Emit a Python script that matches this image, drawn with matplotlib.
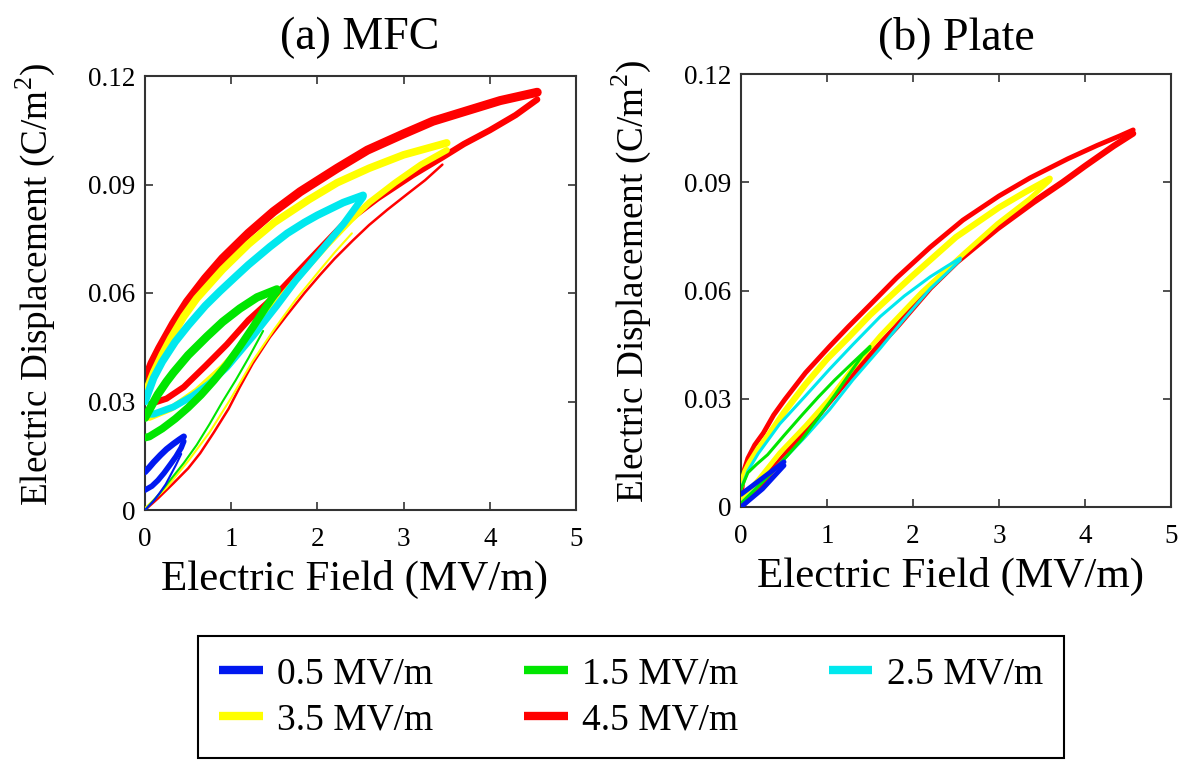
import matplotlib
matplotlib.use("Agg")
import matplotlib.pyplot as plt
from matplotlib.lines import Line2D

plt.rcParams['font.family'] = ['Liberation Serif', 'DejaVu Serif']
plt.rcParams['mathtext.fontset'] = 'custom'
plt.rcParams['mathtext.rm'] = 'Liberation Serif'

# ---------------- data: (E [MV/m], D [C/m^2]) ----------------
levels = ['0.5 MV/m', '1.5 MV/m', '2.5 MV/m', '3.5 MV/m', '4.5 MV/m']
colors = ['#0018F0', '#00E600', '#00E8EE', '#FFFF00', '#FF0000']

# (a) MFC
mfc_red_upper = [(0, 0.0355), (0.08, 0.0405), (0.17, 0.0447), (0.33, 0.0515), (0.49, 0.0575),
                 (0.7, 0.0640), (0.9, 0.0695), (1.2, 0.0765), (1.49, 0.0825), (1.8, 0.0880),
                 (2.23, 0.0945), (2.58, 0.0995), (3.0, 0.1040), (3.34, 0.1075), (3.75, 0.1105),
                 (4.12, 0.1132), (4.55, 0.1155)]
mfc_red_lower = [(4.55, 0.1135), (4.3, 0.1092), (4.0, 0.1050), (3.7, 0.1012), (3.45, 0.0975),
                 (3.1, 0.0925), (2.7, 0.0862), (2.3, 0.0790), (1.9, 0.0690), (1.5, 0.0590),
                 (1.2, 0.0525), (0.95, 0.0458), (0.7, 0.0398), (0.45, 0.0340), (0.25, 0.0308),
                 (0.12, 0.0298)]
mfc_red_initial = [(0, 0), (0.15, 0.0032), (0.33, 0.0074), (0.5, 0.0115), (0.64, 0.0157),
                   (0.8, 0.0215), (0.97, 0.028), (1.1, 0.034), (1.25, 0.0405), (1.45, 0.0478),
                   (1.65, 0.0540), (1.85, 0.0600), (2.03, 0.0650), (2.2, 0.0695), (2.41, 0.0745),
                   (2.6, 0.0788), (2.81, 0.0830), (3.05, 0.0875), (3.25, 0.0912), (3.45, 0.0955)]

mfc_yellow_upper = [(0, 0.032), (0.1, 0.0380), (0.2, 0.0430), (0.3, 0.0475), (0.45, 0.0535),
                    (0.6, 0.0585), (0.75, 0.0625), (0.9, 0.0665), (1.2, 0.0735), (1.5, 0.0795),
                    (1.9, 0.0858), (2.23, 0.0905), (2.6, 0.0945), (3.0, 0.0982), (3.5, 0.1015)]
mfc_yellow_lower = [(3.5, 0.0995), (3.2, 0.0955), (2.9, 0.0905), (2.6, 0.0850), (2.38, 0.0800),
                    (2.1, 0.0730), (1.8, 0.0650), (1.5, 0.0565), (1.2, 0.0475), (0.9, 0.0395),
                    (0.6, 0.0330), (0.3, 0.0280), (0.05, 0.0255)]
mfc_yellow_initial = [(0, 0.0005), (0.25, 0.0062), (0.5, 0.0135), (0.75, 0.0215), (1.0, 0.031),
                      (1.25, 0.0412), (1.5, 0.0500), (1.75, 0.0582), (2.0, 0.0655), (2.2, 0.0712),
                      (2.4, 0.0765)]

mfc_cyan_upper = [(0, 0.030), (0.1, 0.0365), (0.2, 0.0410), (0.35, 0.0465), (0.5, 0.0510),
                  (0.7, 0.0565), (0.87, 0.0605), (1.05, 0.0645), (1.2, 0.0678), (1.45, 0.0728),
                  (1.65, 0.0765), (1.85, 0.0795), (2.0, 0.0815), (2.3, 0.0850), (2.53, 0.0870)]
mfc_cyan_lower = [(2.53, 0.0865), (2.3, 0.0790), (2.0, 0.0705), (1.75, 0.0635), (1.53, 0.0565),
                  (1.25, 0.0480), (0.95, 0.0395), (0.75, 0.0350), (0.55, 0.0315), (0.33, 0.0285),
                  (0.1, 0.0265), (0, 0.0265)]

mfc_green_upper = [(0, 0.0255), (0.08, 0.0290), (0.15, 0.0320), (0.25, 0.0355), (0.33, 0.0380),
                   (0.5, 0.0428), (0.72, 0.0480), (0.9, 0.0520), (1.1, 0.0557), (1.3, 0.0588),
                   (1.53, 0.0610)]
mfc_green_lower = [(1.53, 0.0605), (1.4, 0.0560), (1.25, 0.0505), (1.1, 0.0452), (0.95, 0.0402),
                   (0.8, 0.0358), (0.65, 0.0318), (0.5, 0.0283), (0.35, 0.0252), (0.2, 0.0225),
                   (0.05, 0.0203), (0, 0.0200)]
mfc_green_initial = [(0, 0), (0.15, 0.0040), (0.3, 0.0085), (0.45, 0.0130), (0.6, 0.0180),
                     (0.75, 0.0238), (0.9, 0.0300), (1.05, 0.0358), (1.2, 0.0420), (1.37, 0.0495)]

mfc_blue_upper = [(0, 0.0105), (0.05, 0.0118), (0.1, 0.0132), (0.18, 0.0152), (0.25, 0.0168),
                  (0.33, 0.0183), (0.4, 0.0195), (0.45, 0.0203)]
mfc_blue_lower = [(0.45, 0.0190), (0.42, 0.0172), (0.36, 0.0148), (0.3, 0.0128), (0.22, 0.0102),
                  (0.15, 0.0082), (0.08, 0.0066), (0, 0.0055)]
mfc_blue_initial = [(0, 0), (0.1, 0.0025), (0.17, 0.0047), (0.24, 0.0071), (0.3, 0.0098),
                    (0.36, 0.0125), (0.42, 0.0155)]

# (b) Plate
plate_red_upper = [(0, 0.003), (0.04, 0.0105), (0.08, 0.0135), (0.16, 0.0172), (0.26, 0.0205),
                   (0.38, 0.0255), (0.51, 0.0298), (0.75, 0.0372), (1.03, 0.0445), (1.25, 0.0500),
                   (1.5, 0.0560), (1.81, 0.0635), (2.2, 0.0720), (2.58, 0.0795), (3.0, 0.0862),
                   (3.36, 0.0912), (3.8, 0.0965), (4.14, 0.1002), (4.4, 0.1028), (4.56, 0.1045)]
plate_red_lower = [(4.56, 0.1035), (4.33, 0.1000), (4.0, 0.0945), (3.74, 0.0900), (3.4, 0.0845),
                   (2.98, 0.0772), (2.51, 0.0680), (2.2, 0.0608), (1.81, 0.0500), (1.42, 0.0400),
                   (1.2, 0.0342), (1.0, 0.0285), (0.75, 0.0210), (0.5, 0.0140), (0.25, 0.0070),
                   (0, 0)]

plate_yellow_upper = [(0, 0.006), (0.05, 0.0098), (0.1, 0.0122), (0.2, 0.0160), (0.3, 0.0192),
                      (0.5, 0.0262), (0.75, 0.0340), (1.0, 0.0410), (1.25, 0.0470), (1.5, 0.0532),
                      (2.0, 0.0642), (2.5, 0.0748), (3.0, 0.0830), (3.3, 0.0872), (3.59, 0.0910)]
plate_yellow_lower = [(3.59, 0.0905), (3.36, 0.0855), (2.98, 0.0785), (2.58, 0.0700),
                      (2.1, 0.0595), (1.62, 0.0475), (1.3, 0.0385), (1.03, 0.0300),
                      (0.75, 0.0225), (0.45, 0.0150), (0.2, 0.0075), (0, 0.002)]

plate_cyan_upper = [(0, 0.005), (0.08, 0.0100), (0.2, 0.0148), (0.45, 0.0230), (0.75, 0.0308),
                    (1.03, 0.0382), (1.3, 0.0450), (1.62, 0.0528), (1.9, 0.0585), (2.2, 0.0638),
                    (2.4, 0.0668), (2.55, 0.0690)]
plate_cyan_lower = [(2.55, 0.0685), (2.4, 0.0650), (2.2, 0.0605), (1.9, 0.0522), (1.62, 0.0440),
                    (1.3, 0.0352), (1.03, 0.0270), (0.75, 0.0195), (0.45, 0.0120), (0.2, 0.0058),
                    (0, 0.001)]

plate_green_upper = [(0, 0.005), (0.08, 0.0095), (0.18, 0.0118), (0.31, 0.0145), (0.5, 0.0198),
                     (0.71, 0.0255), (0.9, 0.0305), (1.09, 0.0352), (1.3, 0.0400), (1.5, 0.0445)]
plate_green_lower = [(1.5, 0.0440), (1.41, 0.0420), (1.25, 0.0365), (1.09, 0.0310), (0.9, 0.0248),
                     (0.71, 0.0188), (0.5, 0.0132), (0.31, 0.0084), (0.15, 0.0045), (0, 0.001)]

plate_blue_upper = [(0, 0.0035), (0.25, 0.0080), (0.5, 0.0125)]
plate_blue_lower = [(0.5, 0.0115), (0.25, 0.0050), (0, 0.0)]

x_ticks = [0, 1, 2, 3, 4, 5]
y_ticks = [0, 0.03, 0.06, 0.09, 0.12]
y_tick_labels = ['0', '0.03', '0.06', '0.09', '0.12']

# ---------------- figure ----------------
W, H = 1186, 761
fig = plt.figure(figsize=(W / 100, H / 100), dpi=100)

ax_a = fig.add_axes([145 / W, 1 - 510 / H, 431 / W, 434 / H])
ax_b = fig.add_axes([741 / W, 1 - 507 / H, 430 / W, 433 / H])


def branch(ax, pts, color, lw, z):
    xs = [p[0] for p in pts]
    ys = [p[1] for p in pts]
    ax.plot(xs, ys, color=color, lw=lw, solid_capstyle='round',
            solid_joinstyle='round', zorder=z)


# MFC loops: red underneath, then yellow, cyan, green, blue on top
red, yel, cya, grn, blu = colors[4], colors[3], colors[2], colors[1], colors[0]
branch(ax_a, mfc_red_initial, red, 1.8, 2)
branch(ax_a, mfc_red_upper, red, 6.5, 2)
branch(ax_a, mfc_red_lower, red, 4.5, 2)
branch(ax_a, mfc_yellow_initial, yel, 1.5, 3)
branch(ax_a, mfc_yellow_upper, yel, 5.5, 3)
branch(ax_a, mfc_yellow_lower, yel, 4.5, 3)
branch(ax_a, mfc_cyan_upper, cya, 5.5, 4)
branch(ax_a, mfc_cyan_lower, cya, 5.0, 4)
branch(ax_a, mfc_green_initial, grn, 1.5, 5)
branch(ax_a, mfc_green_upper, grn, 6.0, 5)
branch(ax_a, mfc_green_lower, grn, 5.5, 5)
branch(ax_a, mfc_blue_initial, blu, 1.5, 6)
branch(ax_a, mfc_blue_upper, blu, 4.5, 6)
branch(ax_a, mfc_blue_lower, blu, 4.0, 6)

# Plate loops
branch(ax_b, plate_red_upper, red, 3.5, 2)
branch(ax_b, plate_red_lower, red, 4.5, 2)
branch(ax_b, plate_yellow_upper, yel, 4.5, 3)
branch(ax_b, plate_yellow_lower, yel, 3.5, 3)
branch(ax_b, plate_cyan_upper, cya, 2.2, 4)
branch(ax_b, plate_cyan_lower, cya, 2.2, 4)
branch(ax_b, plate_green_upper, grn, 2.2, 5)
branch(ax_b, plate_green_lower, grn, 2.2, 5)
branch(ax_b, plate_blue_upper, blu, 3.5, 6)
branch(ax_b, plate_blue_lower, blu, 3.5, 6)

for ax, title, xc in [(ax_a, '(a) MFC', 360), (ax_b, '(b) Plate', 956)]:
    ax.set_xlim(0, 5)
    ax.set_ylim(0, 0.12)
    ax.set_xticks(x_ticks)
    ax.set_xticklabels([str(t) for t in x_ticks])
    ax.set_yticks(y_ticks)
    ax.set_yticklabels(y_tick_labels)
    ax.tick_params(direction='in', top=True, right=True, length=6, width=1.2,
                   labelsize=19.5, color='#333333')
    ax.tick_params(axis='x', pad=12)
    ax.tick_params(axis='y', pad=7)
    for s in ax.spines.values():
        s.set_linewidth(1.5)
        s.set_color('#333333')
    ax.set_xlabel('Electric Field (MV/m)', fontsize=31)
    ax.xaxis.label.set_va('center')
    ax.xaxis.set_label_coords(0.487, -0.161)
    ax.set_ylabel(r'Electric Displacement (C/m$^{\mathrm{2}}$)', fontsize=26.8)
    ax.yaxis.label.set_va('center')
    ax.yaxis.set_label_coords(-0.255, 0.52)
    fig.text(xc / W, 1 - 38 / H, title, fontsize=33, ha='center', va='center')

handles = [Line2D([0], [0], color=c, lw=6, solid_capstyle='butt') for c in colors]
order = [0, 3, 1, 4, 2]
leg = fig.legend([handles[i] for i in order], [levels[i] for i in order],
                 loc='center', bbox_to_anchor=(631 / W, 1 - 697 / H), ncol=3,
                 fontsize=27, frameon=True, fancybox=False, framealpha=1,
                 edgecolor='black', handlelength=1.17, handletextpad=0.38,
                 columnspacing=2.41, labelspacing=0.3, borderpad=0.55,
                 borderaxespad=0)
leg.get_frame().set_linewidth(1.5)

fig.savefig('out.png', dpi=100)
